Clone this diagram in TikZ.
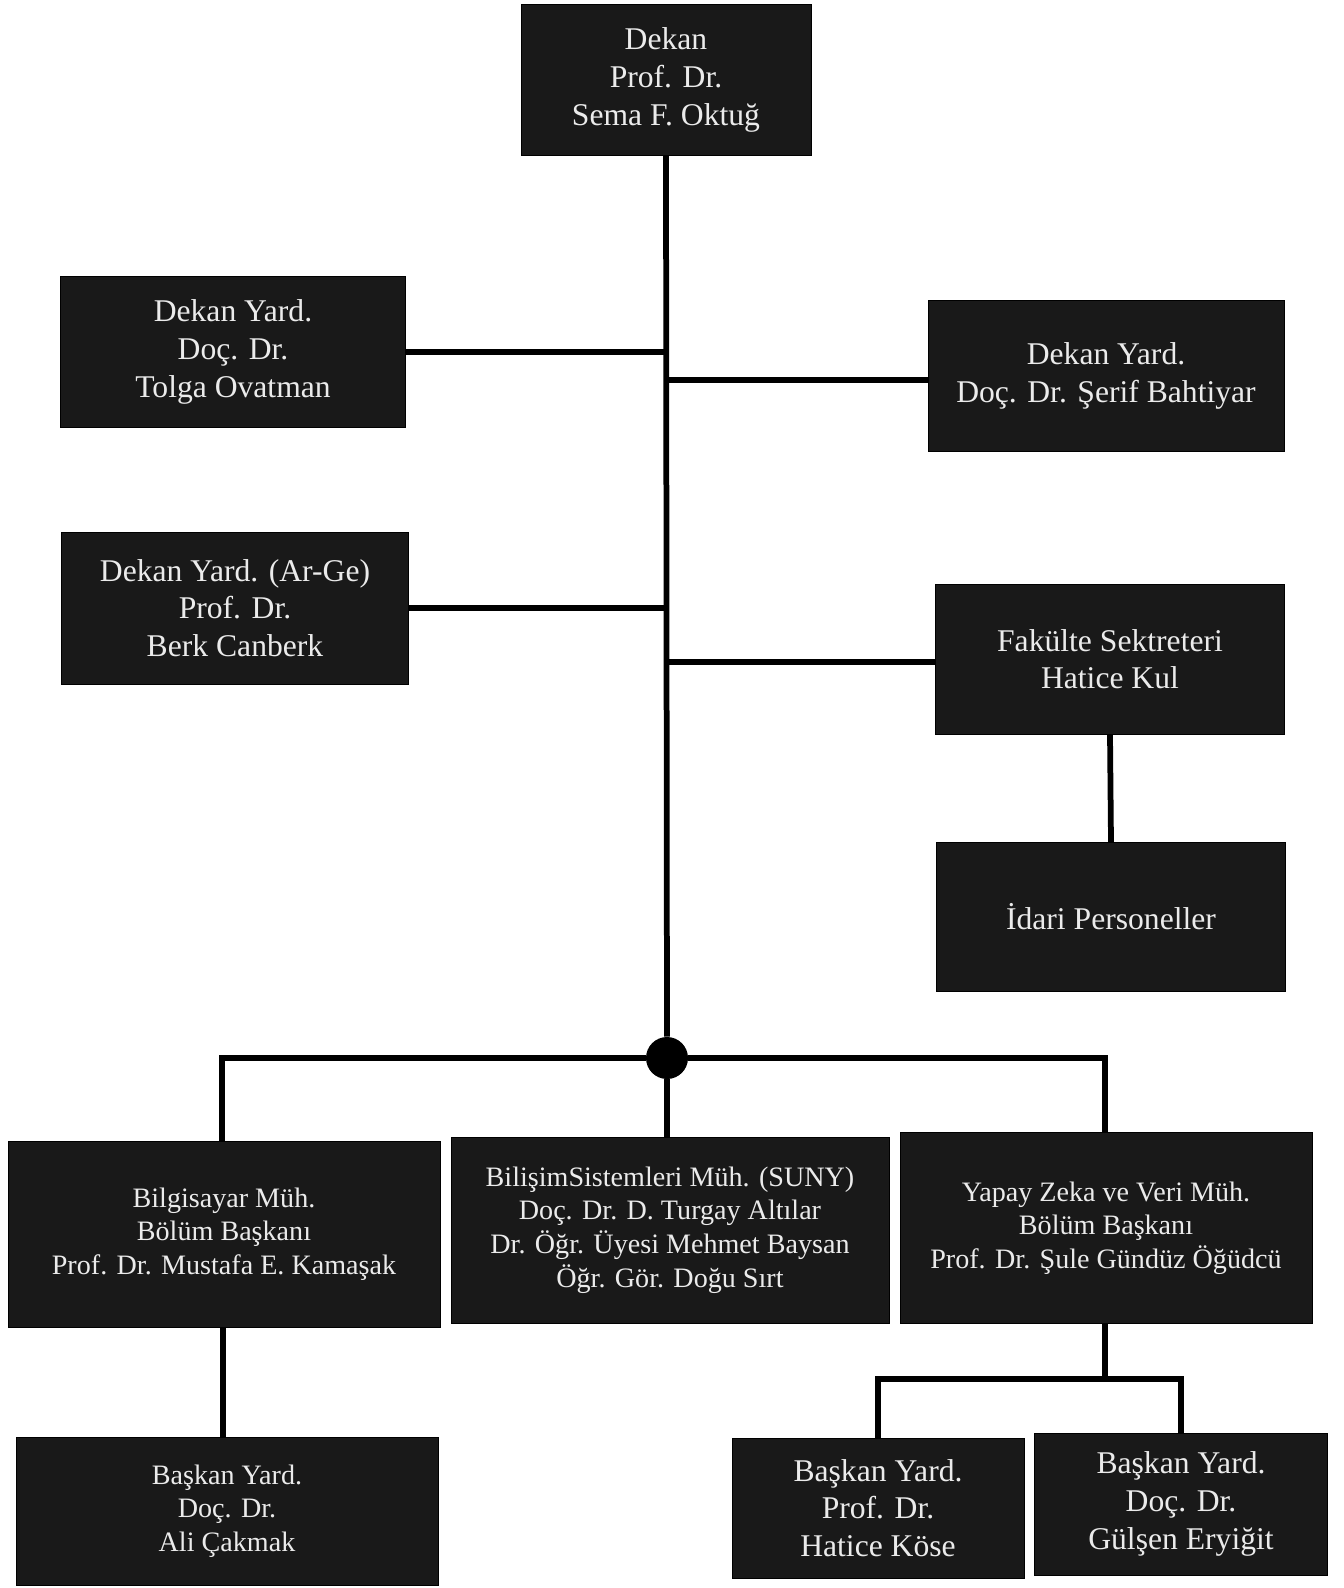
\documentclass[tikz,border=0pt]{standalone}
\usepackage{fontspec}
\setmainfont{Liberation Serif}
\usepackage{xcolor}
\usetikzlibrary{positioning}

\begin{document}
\begin{tikzpicture}[
  x=0.02cm, y=-0.02cm,
  unit/.style={rectangle, draw=black, fill=black!90, text=white!92!black,
               align=center, inner sep=0pt, font=\fontsize{18}{21.4}\selectfont},
  dept/.style={unit, font=\fontsize{16}{19.2}\selectfont},
  link/.style={line width=0.115cm, black},
]
\useasboundingbox (0,0) rectangle (1344,1588);
% ust yonetim
\node[unit, minimum width=5.8cm, minimum height=3.02cm] (dekan) at (666,80) {Dekan\\Prof. Dr.\\Sema F. Oktuğ};
\node[unit, minimum width=6.9cm, minimum height=3.02cm] (yard1) at (233,352) {Dekan Yard.\\Doç. Dr.\\Tolga Ovatman};
\node[unit, minimum width=7.12cm, minimum height=3.02cm] (yard2) at (1106,376) {Dekan Yard.\\Doç. Dr. Şerif Bahtiyar};
\node[unit, minimum width=6.94cm, minimum height=3.04cm] (arge) at (235,608) {Dekan Yard. (Ar-Ge)\\Prof. Dr.\\Berk Canberk};
\node[unit, minimum width=6.98cm, minimum height=3.0cm] (sekreter) at (1110,659) {Fakülte Sektreteri\\Hatice Kul};
\node[unit, minimum width=6.98cm, minimum height=2.98cm] (idari) at (1111,917) {İdari Personeller};
\node[circle, fill=black, minimum size=0.84cm, inner sep=0pt] (hub) at (667,1058) {};
% bolumler
\node[dept, minimum width=8.64cm, minimum height=3.72cm] (bilmuh) at (224,1234) {Bilgisayar Müh.\\Bölüm Başkanı\\Prof. Dr. Mustafa E. Kamaşak};
\node[dept, minimum width=8.76cm, minimum height=3.72cm] (bilsis) at (670,1230) {BilişimSistemleri Müh. (SUNY)\\Doç. Dr. D. Turgay Altılar\\Dr. Öğr. Üyesi Mehmet Baysan\\Öğr. Gör. Doğu Sırt};
\node[dept, minimum width=8.24cm, minimum height=3.82cm] (yzvm) at (1106,1228) {Yapay Zeka ve Veri Müh.\\Bölüm Başkanı\\Prof. Dr. Şule Gündüz Öğüdcü};
\node[dept, minimum width=8.44cm, minimum height=2.96cm] (bmyard) at (227,1511) {Başkan Yard.\\Doç. Dr.\\Ali Çakmak};
\node[unit, minimum width=5.84cm, minimum height=2.8cm] (yzyard1) at (878,1508) {Başkan Yard.\\Prof. Dr.\\Hatice Köse};
\node[unit, minimum width=5.86cm, minimum height=2.84cm] (yzyard2) at (1181,1504) {Başkan Yard.\\Doç. Dr.\\Gülşen Eryiğit};
\coordinate (ysplit) at (1105,1379);

\draw[link] (dekan.south) -- (hub);
\draw[link] (yard1.east) -- (yard1.east -| hub);
\draw[link] ([yshift=-0.08cm]yard2.west) -- ([yshift=-0.08cm]yard2.west -| hub);
\draw[link] (arge.east) -- (arge.east -| hub);
\draw[link] ([yshift=-0.06cm]sekreter.west) -- ([yshift=-0.06cm]sekreter.west -| hub);
\draw[link] (sekreter.south) -- (idari.north);
\draw[link] (hub) -| ([xshift=-0.04cm]bilmuh.north);
\draw[link] (hub) -- (hub |- bilsis.north);
\draw[link] (hub) -| ([xshift=-0.02cm]yzvm.north);
\draw[link] ([xshift=-0.02cm]bilmuh.south) -- ([xshift=-0.02cm]bilmuh.south |- bmyard.north);
\draw[link] (yzvm.south -| ysplit) -- (ysplit);
\draw[link] (ysplit) -| (yzyard1.north);
\draw[link] (ysplit) -| (yzyard2.north);
\end{tikzpicture}
\end{document}
